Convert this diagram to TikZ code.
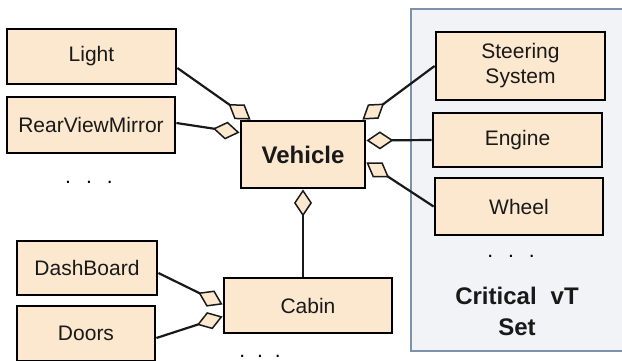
\documentclass[tikz,border=0pt]{standalone}
\usepackage{fontspec}
\setmainfont{Liberation Sans}
\usetikzlibrary{arrows.meta,calc}
\definecolor{boxfill}{RGB}{251,232,207}
\definecolor{critfill}{RGB}{241,243,247}
\definecolor{critdraw}{RGB}{125,145,170}
\tikzset{
  cls/.style={draw=black, line width=2.8pt, fill=boxfill, inner sep=0pt,
    font=\fontsize{21}{25}\selectfont, align=center, text=black!90},
  agg/.style={line width=2.2pt, draw=black!90,
    -{Diamond[length=27pt,width=18pt,fill=boxfill,line width=1.5pt]}},
  dots/.style={font=\fontsize{21}{25}\selectfont, anchor=base, inner sep=0pt},
  crit/.style={font=\bfseries\fontsize{24}{28}\selectfont, anchor=base, inner sep=0pt, text=black!90}
}
\begin{document}
\begin{tikzpicture}[x=1pt,y=-1pt]
\useasboundingbox (0,0) rectangle (622,361);
% critical set background
\draw[draw=critdraw, fill=critfill, line width=1.5pt] (411,9) rectangle (625,351);
% classes
\node[cls, minimum width=169pt, minimum height=55pt] (light) at (91.5,56.5) {Light};
\node[cls, minimum width=168pt, minimum height=56pt] (rvm) at (91,125) {RearViewMirror};
\node[cls, minimum width=124pt, minimum height=67pt, font=\bfseries\fontsize{24}{28}\selectfont] (vehicle) at (303,154.5) {Vehicle};
\node[cls, minimum width=169pt, minimum height=68pt] (steer) at (520.5,66) {Steering\\System};
\node[cls, minimum width=169pt, minimum height=54pt] (engine) at (517.5,140) {Engine};
\node[cls, minimum width=168pt, minimum height=57pt] (wheel) at (519,206.5) {Wheel};
\node[cls, minimum width=140pt, minimum height=54pt] (dash) at (87,268) {DashBoard};
\node[cls, minimum width=138pt, minimum height=55pt] (doors) at (86,333.5) {Doors};
\node[cls, minimum width=168pt, minimum height=55pt] (cabin) at (308,305.5) {Cabin};
% dots and labels
\node[dots] (dotsL) at (89,183) {.\hspace{15pt}.\hspace{15pt}.};
\node[dots] (dotsC) at (511,257) {.\hspace{15pt}.\hspace{15pt}.};
\node[dots] (dotsB) at (260,357) {.\hspace{12pt}.\hspace{12pt}.};
\node[crit] (crit1) at (517,304) {Critical\hspace{14pt}vT};
\node[crit] (crit2) at (517,335) {Set};
% aggregations
\draw[agg] ($(light.east)+(0,11.5)$) -- ($(vehicle.north west)+(11,0)$);
\draw[agg] ($(rvm.east)+(0,-2)$) -- ($(vehicle.north west)+(0,13)$);
\draw[agg] (steer.west) -- ($(vehicle.north east)+(-4,0)$);
\draw[agg] (engine.west) -- ($(vehicle.east)+(0,-14)$);
\draw[agg] (wheel.west) -- ($(vehicle.east)+(0,8)$);
\draw[agg] (vehicle.south |- cabin.north) -- (vehicle.south);
\draw[agg] ($(dash.east)+(0,5)$) -- ($(cabin.west)+(0,-1)$);
\draw[agg] ($(doors.east)+(0,4.5)$) -- ($(cabin.west)+(0,11)$);
\end{tikzpicture}
\end{document}
